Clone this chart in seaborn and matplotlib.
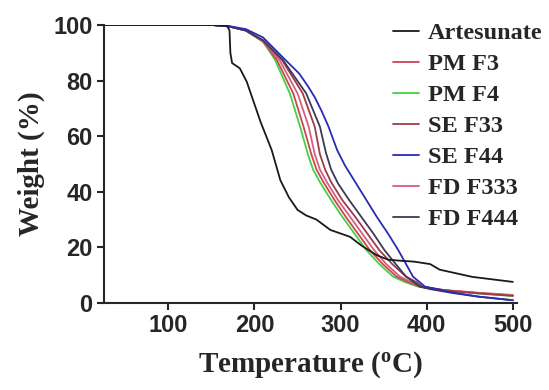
import pandas as pd
import matplotlib
matplotlib.use("Agg")
import matplotlib.pyplot as plt
import seaborn as sns

# TGA curves
art_t = [25, 150, 168, 171, 172, 174, 183, 191, 195, 207, 220, 230, 240, 250, 260, 272, 288, 311, 325, 342, 355, 370, 385, 404, 415, 453, 500]
art_w = [100, 100, 99.8, 98, 90, 86.3, 84.4, 79.6, 76, 65.2, 55, 44.2, 38, 33.5, 31.5, 30, 26.3, 23.8, 20.5, 17.2, 15.6, 15.2, 14.9, 14, 12, 9.4, 7.6]

pmf4_t = [25, 150, 170, 190, 210, 224, 241, 253, 262, 268, 276, 289, 302, 316, 330, 345, 361, 375, 390, 420, 460, 500]
pmf4_w = [100, 100, 99.5, 98, 94, 87.4, 75.4, 63.4, 53.5, 48, 43.5, 37, 31, 25, 19, 14, 9.5, 7.5, 5.9, 4.5, 3.4, 2.5]

pmf3_t = [25, 150, 170, 190, 210, 226, 245, 257, 266, 272, 280, 293, 306, 320, 334, 349, 365, 379, 392, 420, 460, 500]
pmf3_w = [100, 100, 99.5, 98, 94, 87.4, 75.4, 63.4, 53.5, 48, 43.5, 37, 31, 25, 19, 14, 9.5, 7.5, 5.9, 4.6, 3.6, 2.8]

fd333_t = [25, 150, 170, 190, 210, 229, 250, 263, 270, 276, 284, 297, 311, 325, 339, 353, 369, 382, 393, 420, 460, 500]
fd333_w = [100, 100, 99.5, 98, 94, 87.4, 75.4, 63.4, 53.5, 48, 43.5, 37, 31, 25, 19, 14, 9.5, 7.5, 5.9, 4.7, 3.7, 2.9]

se33_t = [25, 150, 170, 190, 210, 232, 256, 270, 276, 282, 289, 302, 317, 331, 345, 360, 376, 388, 395, 420, 460, 500]
se33_w = [100, 100, 99.5, 98, 94.3, 87.4, 75.4, 63.4, 53.5, 48, 43.5, 37, 31, 25, 19, 14, 9.5, 7.5, 5.9, 4.6, 3.5, 2.6]

fd444_t = [25, 150, 170, 190, 210, 233, 260, 276, 283, 289, 297, 310, 324, 338, 351, 364, 376, 385, 392, 404, 430, 460, 500]
fd444_w = [100, 100, 99.5, 98, 94.5, 87.4, 75.4, 63.4, 54, 48, 43, 37, 31, 25, 19, 14, 9.5, 7.5, 5.9, 5, 3.6, 2.3, 1]

se44_t = [25, 150, 170, 190, 210, 236, 252, 262, 270, 278, 286, 296, 305, 317, 330, 342, 355, 367, 376, 384, 398, 430, 460, 500]
se44_w = [100, 100, 99.6, 98.5, 95.5, 87.4, 82.5, 78, 74, 69, 63.4, 55, 49.5, 43.5, 37, 31, 25, 19, 14, 9.5, 5.9, 3.8, 2.3, 1]

names = ["Artesunate", "PM F3", "PM F4", "SE F33", "SE F44", "FD F333", "FD F444"]
colors = ["#1a1a1a", "#cc4652", "#44d044", "#9e3a4a", "#2a2ab8", "#d4607c", "#3a3a58"]

series = {
    "Artesunate": (art_t, art_w),
    "PM F3": (pmf3_t, pmf3_w),
    "PM F4": (pmf4_t, pmf4_w),
    "SE F33": (se33_t, se33_w),
    "SE F44": (se44_t, se44_w),
    "FD F333": (fd333_t, fd333_w),
    "FD F444": (fd444_t, fd444_w),
}

rows = []
for name, (t, w) in series.items():
    for ti, wi in zip(t, w):
        rows.append({"Temperature": ti, "Weight": wi, "Sample": name})
df = pd.DataFrame(rows)

sns.set_style("ticks")
fig = plt.figure(figsize=(5.49, 3.90), dpi=100)
ax = fig.add_axes([0.189, 0.223, 0.753, 0.713])

# formulations first, artesunate drawn last
draw_order = ["PM F4", "PM F3", "FD F333", "SE F33", "FD F444", "SE F44", "Artesunate"]
for name in draw_order:
    sub = df[df["Sample"] == name]
    sns.lineplot(data=sub, x="Temperature", y="Weight", color=colors[names.index(name)],
                 lw=1.3, ax=ax, estimator=None, sort=False, label=name)

ax.set_xlim(25, 505)
ax.set_ylim(0, 100)
ax.set_xticks([100, 200, 300, 400, 500])
ax.set_yticks([0, 20, 40, 60, 80, 100])
sns.despine(ax=ax)
for s in ["left", "bottom"]:
    ax.spines[s].set_linewidth(1.5)
ax.tick_params(width=1.5, length=5, pad=3)
for lab in ax.get_xticklabels() + ax.get_yticklabels():
    lab.set_fontfamily("Liberation Sans")
    lab.set_fontweight("bold")
    lab.set_fontsize(17)

ax.set_xlabel("Temperature ($\\mathregular{^{o}}$C)", family="Liberation Serif", fontweight="bold", fontsize=21, labelpad=9)
ax.set_ylabel("Weight (%)", family="Liberation Serif", fontweight="bold", fontsize=21, labelpad=6)

handles, labels = ax.get_legend_handles_labels()
hmap = dict(zip(labels, handles))
leg = ax.legend([hmap[n] for n in names], names, loc="upper left",
                bbox_to_anchor=(393 / 549, 1 - 22 / 390), bbox_transform=fig.transFigure,
                frameon=False, handlelength=1.06, handletextpad=0.38, labelspacing=0.37,
                borderaxespad=0, borderpad=0,
                prop={"family": "Liberation Serif", "weight": "bold", "size": 17.5})

fig.savefig("out.png", dpi=100)
